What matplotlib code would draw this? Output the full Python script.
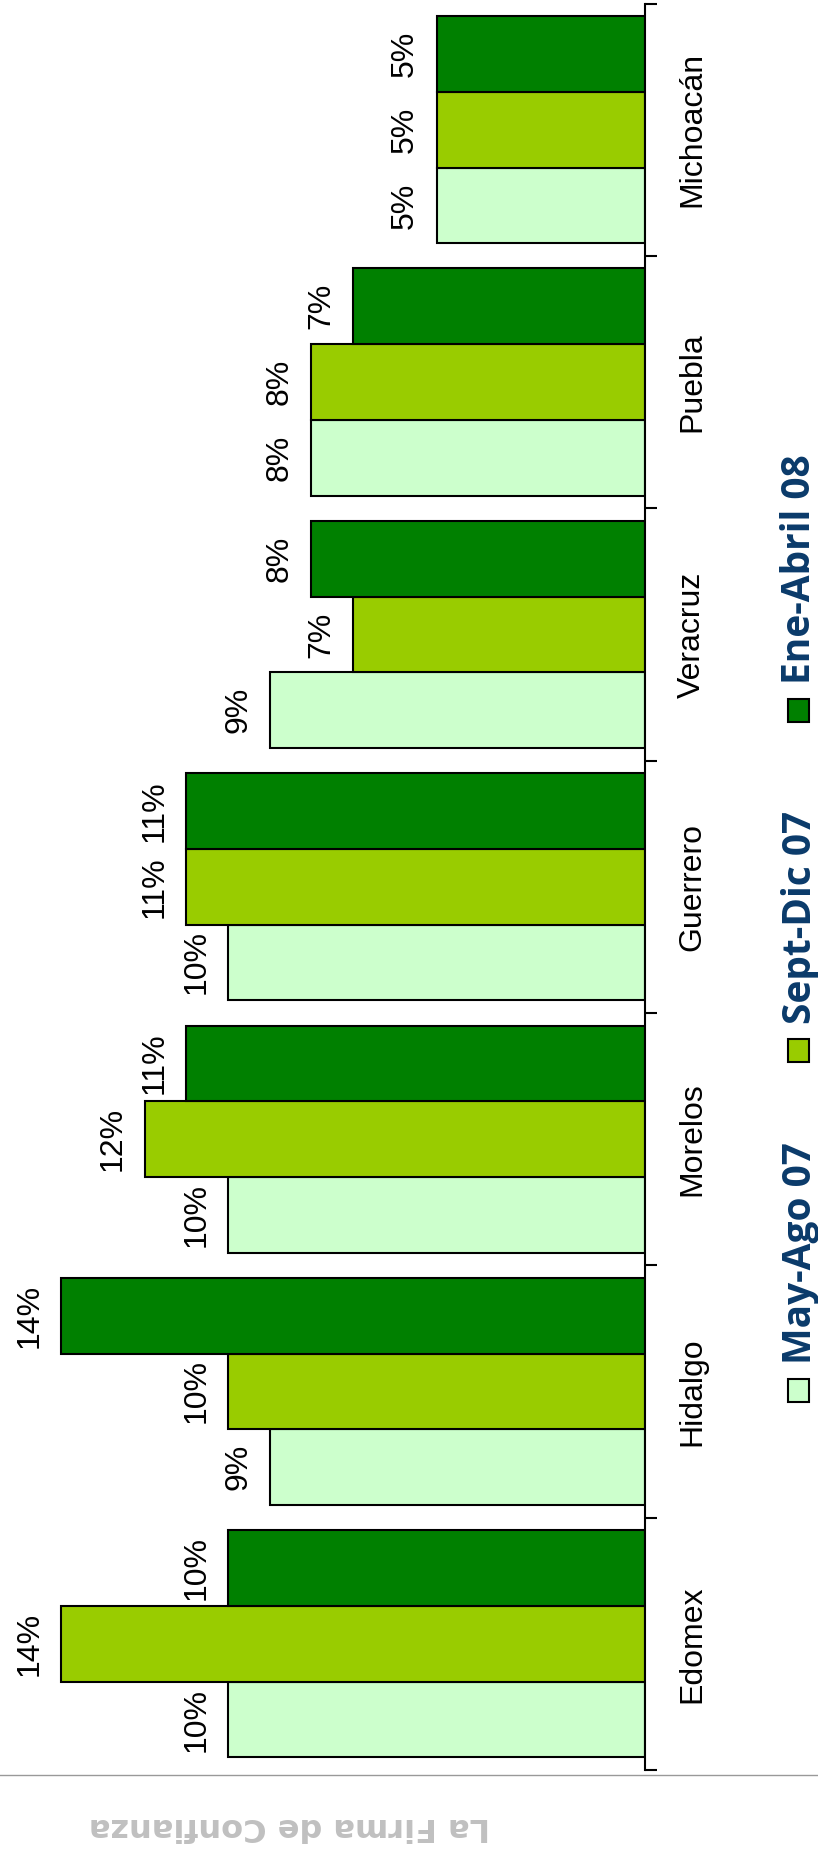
import numpy as np
import matplotlib
matplotlib.use("Agg")
import matplotlib.pyplot as plt
from matplotlib.patches import Rectangle
from matplotlib.lines import Line2D

# participacion por estado en cada periodo (%)
estados = ["Edomex", "Hidalgo", "Morelos", "Guerrero", "Veracruz", "Puebla", "Michoacán"]
may_ago_07 = [10, 9, 10, 10, 9, 8, 5]
sept_dic_07 = [14, 10, 12, 11, 7, 8, 5]
ene_abril_08 = [10, 14, 11, 11, 8, 7, 5]
periodos = ["May-Ago 07", "Sept-Dic 07", "Ene-Abril 08"]
colores = ["#CCFFCC", "#99CC00", "#008000"]

W, H = 818, 1855
fig = plt.figure(figsize=(W / 100, H / 100), dpi=100)
ax = fig.add_axes([0, (H - 1770) / H, 645 / W, (1770 - 3.5) / H])

fuente_valor = ["Liberation Sans Narrow", "Liberation Sans"]
y = np.arange(len(estados))
alto = 0.3
series = [may_ago_07, sept_dic_07, ene_abril_08]
for k in range(len(series)):
    pos = y + (k - 1) * alto
    ax.barh(pos, series[k], height=alto, color=colores[k],
            edgecolor="black", linewidth=1.5)
    for p, v in zip(pos, series[k]):
        ax.annotate(str(v) + "%", xy=(v, p), xytext=(-12, 0),
                    textcoords="offset points", rotation=90,
                    ha="right", va="center", fontsize=23, family=fuente_valor)

ax.set_xlim(15.47, 0)
ax.set_ylim(-0.5, len(estados) - 0.5)
ax.set_xticks([])
for s in ["left", "top", "bottom"]:
    ax.spines[s].set_visible(False)
ax.spines["right"].set_linewidth(1.5)
ax.yaxis.tick_right()
ax.set_yticks(np.arange(-0.5, len(estados), 1))
ax.set_yticklabels([])
ax.tick_params(axis="y", direction="out", length=8.6, width=1.5)

for i, nombre in enumerate(estados):
    ax.text(692 / 645, i, nombre, transform=ax.get_yaxis_transform(),
            rotation=90, ha="center", va="center", fontsize=23,
            family="Liberation Sans")

# leyenda girada
for k in range(len(periodos)):
    base = 1402 - k * 340
    fig.add_artist(Rectangle((788 / W, 1 - base / H), 21 / W, 23 / H,
                             transform=fig.transFigure, facecolor=colores[k],
                             edgecolor="black", linewidth=1.5))
    fig.text(800 / W, 1 - (base - 38) / H, periodos[k], rotation=90,
             ha="center", va="bottom", fontsize=28, fontweight="bold",
             color="#0a3a6a", family=["Open Sans", "Liberation Sans"])

fig.add_artist(Line2D([0, 1], [1 - 1775 / H] * 2, color="#999999", linewidth=1.0))
fig.text(289 / W, 1 - 1827 / H, "La Firma de Confianza", rotation=180,
         ha="center", va="center", fontsize=23, fontweight="bold",
         color="#c0c0c0", family="DejaVu Sans")

fig.savefig("out.png", dpi=100)
